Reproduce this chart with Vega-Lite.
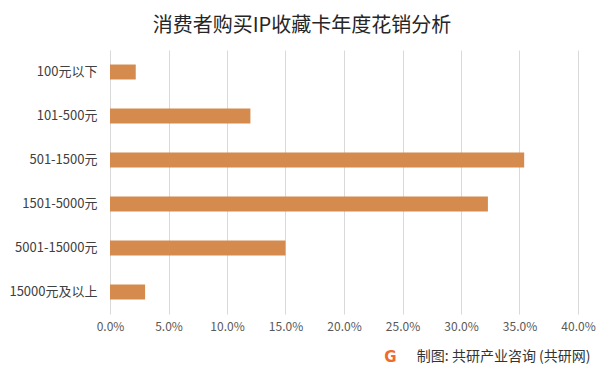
{
  "$schema": "https://vega.github.io/schema/vega-lite/v6.json",
  "autosize": "none",
  "width": 468,
  "height": 264,
  "padding": {"left": 110, "top": 50, "right": 20, "bottom": 58},
  "background": "white",
  "title": {
    "text": "消费者购买IP收藏卡年度花销分析",
    "font": "Noto Sans CJK SC",
    "fontSize": 20,
    "fontWeight": "normal",
    "color": "#262626",
    "anchor": "middle",
    "dx": -42,
    "offset": 14
  },
  "data": {
    "values": [
      {"category": "100元以下", "value": 0.022},
      {"category": "101-500元", "value": 0.12},
      {"category": "501-1500元", "value": 0.354},
      {"category": "1501-5000元", "value": 0.323},
      {"category": "5001-15000元", "value": 0.15},
      {"category": "15000元及以上", "value": 0.03}
    ]
  },
  "mark": {"type": "bar", "color": "#D58B4D"},
  "encoding": {
    "y": {
      "field": "category",
      "type": "nominal",
      "sort": null,
      "scale": {"paddingInner": 0.66, "paddingOuter": 0.33},
      "axis": {
        "title": "G",
        "titleAngle": 0,
        "titleX": 280,
        "titleY": 306,
        "titleAlign": "center",
        "titleBaseline": "middle",
        "titleColor": "#EF6A2C",
        "titleFont": "DejaVu Sans",
        "titleFontSize": 15,
        "titleFontWeight": "bold",
        "domain": false,
        "ticks": false,
        "labelPadding": 13,
        "labelFont": "Noto Sans CJK SC",
        "labelFontSize": 13,
        "labelColor": "#404040",
        "grid": false
      }
    },
    "x": {
      "field": "value",
      "type": "quantitative",
      "scale": {"domain": [0, 0.4], "nice": false},
      "axis": {
        "format": ".1%",
        "values": [0, 0.05, 0.1, 0.15, 0.2, 0.25, 0.3, 0.35, 0.4],
        "domain": false,
        "ticks": false,
        "grid": true,
        "gridColor": "#D9D9D9",
        "gridWidth": 1,
        "labelFlush": false,
        "labelPadding": 7,
        "labelFont": "Noto Sans CJK SC",
        "labelFontSize": 12,
        "labelColor": "#595959",
        "title": "制图: 共研产业咨询 (共研网)",
        "titleAnchor": "end",
        "titleAlign": "right",
        "titleX": 480,
        "titleY": 42,
        "titleBaseline": "middle",
        "titleFont": "Noto Sans CJK SC",
        "titleFontSize": 14,
        "titleFontWeight": "normal",
        "titleColor": "#333333"
      }
    }
  },
  "config": {"view": {"stroke": null}}
}
